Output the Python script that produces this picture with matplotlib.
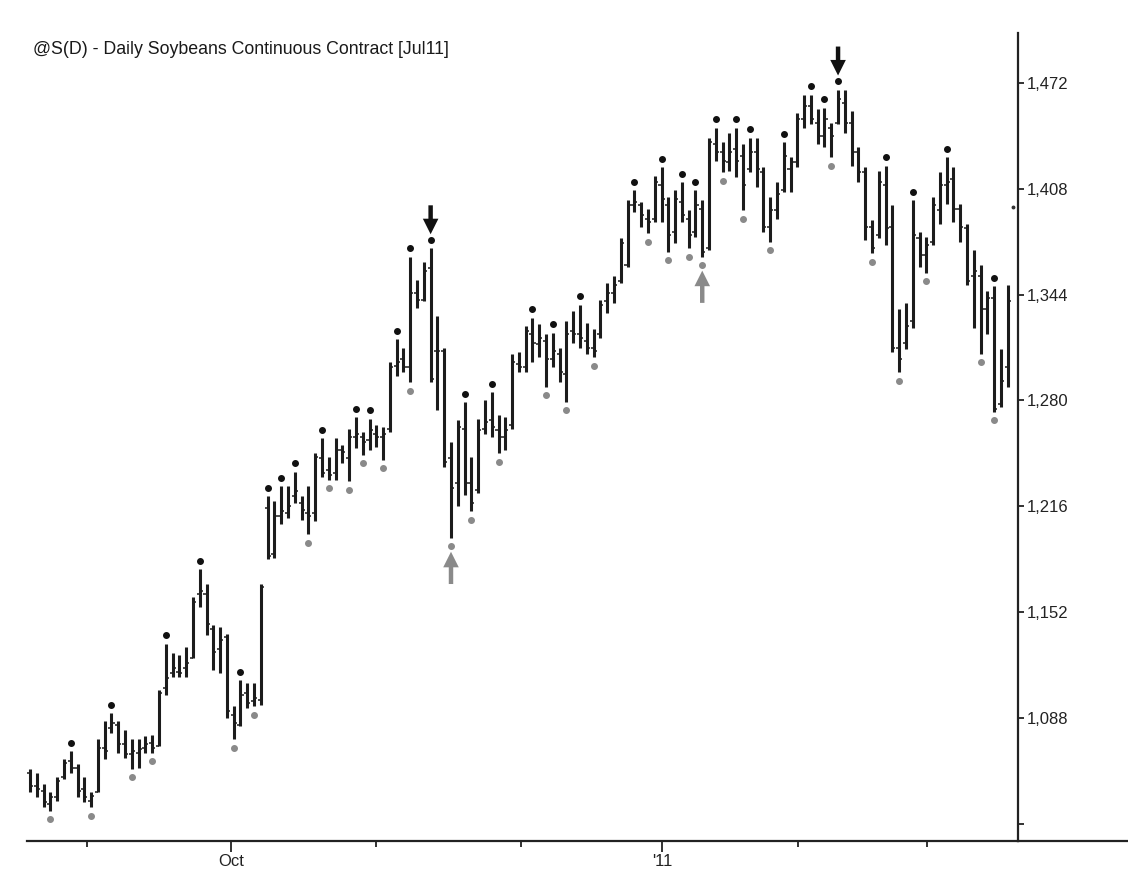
import matplotlib
matplotlib.use("Agg")
import matplotlib.pyplot as plt
from matplotlib.lines import Line2D
from matplotlib.ticker import FixedLocator, NullFormatter

plt.rcParams['font.family'] = ['Liberation Sans', 'DejaVu Sans']

title = "@S(D) - Daily Soybeans Continuous Contract [Jul11]"

highs = [1057, 1055, 1048, 1043, 1052, 1063, 1068, 1060, 1052, 1043,
         1075, 1086, 1091, 1086, 1081, 1075, 1075, 1077, 1078, 1105,
         1133, 1127, 1126, 1131, 1161, 1178, 1169, 1144, 1143, 1139,
         1095, 1111, 1109, 1109, 1169, 1222, 1219, 1228, 1228, 1237,
         1222, 1228, 1248, 1257, 1246, 1257, 1253, 1263, 1270, 1261,
         1269, 1265, 1264, 1303, 1317, 1312, 1367, 1353, 1364, 1372,
         1331, 1312, 1255, 1268, 1279, 1246, 1269, 1280, 1285, 1271,
         1270, 1308, 1309, 1325, 1330, 1326, 1320, 1321, 1312, 1328,
         1334, 1338, 1327, 1323, 1341, 1351, 1355, 1378, 1401, 1407,
         1400, 1396, 1416, 1421, 1403, 1407, 1412, 1395, 1407, 1401,
         1439, 1445, 1436, 1442, 1445, 1435, 1439, 1439, 1421, 1403,
         1412, 1436, 1427, 1454, 1465, 1465, 1456, 1457, 1448, 1468,
         1468, 1455, 1433, 1421, 1389, 1419, 1422, 1398, 1335, 1339,
         1401, 1382, 1379, 1403, 1418, 1427, 1421, 1399, 1387, 1371,
         1362, 1346, 1349, 1311, 1350]

lows = [1043, 1040, 1034, 1032, 1038, 1051, 1055, 1040, 1037, 1034,
        1043, 1063, 1079, 1067, 1064, 1057, 1058, 1067, 1067, 1071,
        1102, 1113, 1113, 1113, 1124, 1155, 1138, 1117, 1115, 1088,
        1075, 1083, 1094, 1095, 1096, 1184, 1185, 1205, 1209, 1218,
        1208, 1199, 1207, 1234, 1232, 1232, 1242, 1231, 1251, 1247,
        1250, 1252, 1244, 1261, 1295, 1297, 1291, 1336, 1340, 1291,
        1274, 1240, 1197, 1216, 1223, 1213, 1224, 1260, 1258, 1248,
        1250, 1263, 1297, 1297, 1303, 1306, 1288, 1300, 1291, 1279,
        1315, 1312, 1308, 1306, 1318, 1333, 1339, 1351, 1361, 1394,
        1385, 1381, 1388, 1388, 1370, 1375, 1388, 1372, 1379, 1367,
        1371, 1425, 1418, 1419, 1415, 1395, 1418, 1409, 1382, 1376,
        1390, 1406, 1406, 1421, 1445, 1447, 1435, 1433, 1427, 1447,
        1442, 1422, 1412, 1377, 1369, 1378, 1374, 1309, 1297, 1311,
        1324, 1361, 1357, 1374, 1387, 1399, 1388, 1376, 1350, 1324,
        1308, 1320, 1273, 1276, 1288]

opens = [1055, 1047, 1044, 1036, 1040, 1052, 1062, 1058, 1045, 1038,
         1043, 1070, 1082, 1084, 1072, 1066, 1067, 1070, 1073, 1071,
         1106, 1115, 1116, 1118, 1124, 1163, 1163, 1142, 1130, 1137,
         1090, 1084, 1103, 1098, 1099, 1215, 1187, 1210, 1212, 1222,
         1218, 1212, 1212, 1245, 1238, 1236, 1250, 1245, 1258, 1258,
         1256, 1260, 1258, 1263, 1301, 1305, 1300, 1345, 1341, 1360,
         1310, 1310, 1245, 1230, 1263, 1230, 1226, 1263, 1268, 1262,
         1258, 1265, 1302, 1300, 1320, 1314, 1316, 1305, 1308, 1296,
         1322, 1320, 1316, 1312, 1320, 1340, 1345, 1352, 1362, 1398,
         1398, 1390, 1390, 1410, 1398, 1382, 1400, 1390, 1382, 1396,
         1372, 1435, 1430, 1424, 1432, 1428, 1420, 1430, 1418, 1385,
         1395, 1407, 1420, 1424, 1450, 1458, 1448, 1440, 1445, 1448,
         1460, 1448, 1430, 1418, 1385, 1380, 1410, 1385, 1312, 1315,
         1328, 1378, 1368, 1376, 1395, 1410, 1414, 1396, 1384, 1355,
         1355, 1335, 1342, 1278, 1300]

closes = [1047, 1045, 1037, 1040, 1050, 1061, 1058, 1044, 1040, 1041,
          1070, 1068, 1085, 1072, 1066, 1068, 1069, 1072, 1070, 1103,
          1112, 1118, 1115, 1121, 1158, 1165, 1145, 1128, 1135, 1092,
          1085, 1102, 1097, 1100, 1167, 1186, 1210, 1213, 1216, 1225,
          1214, 1210, 1246, 1236, 1235, 1250, 1249, 1258, 1260, 1255,
          1262, 1258, 1260, 1300, 1303, 1300, 1345, 1341, 1358, 1293,
          1310, 1243, 1227, 1264, 1230, 1218, 1262, 1267, 1264, 1258,
          1262, 1303, 1300, 1322, 1315, 1318, 1305, 1310, 1297, 1320,
          1320, 1318, 1312, 1310, 1338, 1345, 1350, 1375, 1398, 1400,
          1392, 1388, 1412, 1402, 1380, 1402, 1392, 1380, 1398, 1370,
          1436, 1430, 1425, 1430, 1425, 1410, 1430, 1420, 1385, 1395,
          1405, 1428, 1424, 1450, 1458, 1450, 1440, 1450, 1440, 1462,
          1448, 1430, 1418, 1385, 1372, 1412, 1384, 1312, 1305, 1325,
          1380, 1368, 1374, 1398, 1410, 1412, 1396, 1385, 1352, 1358,
          1335, 1342, 1275, 1292, 1340]

# 1-based bar numbers of swing highs (black dots) and swing lows (grey dots)
swing_high_bars = [7, 13, 21, 26, 32, 36, 38, 40, 44, 49, 51, 55, 57, 60, 65, 69,
                   75, 78, 82, 90, 94, 97, 99, 102, 105, 107, 112, 116, 118, 120,
                   127, 131, 136, 143]
swing_low_bars = [4, 10, 16, 19, 31, 34, 42, 45, 48, 50, 53, 57, 63, 66, 70, 77,
                  80, 84, 92, 95, 98, 100, 103, 106, 110, 119, 125, 129, 133, 141, 143]
sell_arrow_bars = [60, 120]
buy_arrow_bars = [63, 100]

month_tick_pos = [8.4, 29.6, 51.0, 72.3, 93.1, 113.1, 132.1]
month_tick_labels = ["", "Oct", "", "", "'11", "", ""]
price_ticks = [1024, 1088, 1152, 1216, 1280, 1344, 1408, 1472]
price_labels = ["", "1,088", "1,152", "1,216", "1,280", "1,344", "1,408", "1,472"]
last_marker_value = [1397]

BAR = '#1c1c1c'
GREY = '#8a8a8a'

fig = plt.figure(figsize=(11.28, 8.9), dpi=100)
L, R = 27 / 1128, 1018 / 1128
B, T = 1 - 841 / 890, 1 - 33 / 890
ax = fig.add_axes([L, B, R - L, T - B])

n = len(highs)
xs = list(range(n))
ax.vlines(xs, lows, highs, color=BAR, lw=2.2, zorder=3)
ax.hlines(opens, [x - 0.45 for x in xs], xs, color=BAR, lw=1.1, zorder=3)
ax.hlines(closes, xs, [x + 0.45 for x in xs], color=BAR, lw=1.1, zorder=3)

hx = [b - 1 for b in swing_high_bars]
ax.plot(hx, [highs[i] + 5 for i in hx], 'o', color='#111111', ms=4.0, zorder=4)
lx = [b - 1 for b in swing_low_bars]
ax.plot(lx, [lows[i] - 5 for i in lx], 'o', color=GREY, ms=4.0, zorder=4)

for b in sell_arrow_bars:
    i = b - 1
    ax.annotate('', xy=(i, highs[i] + 8.5), xytext=(i, highs[i] + 26),
                arrowprops=dict(arrowstyle='simple,head_width=0.7,head_length=0.7,tail_width=0.2',
                                color='#111111', lw=0, mutation_scale=16, shrinkA=0, shrinkB=0))
for b in buy_arrow_bars:
    i = b - 1
    ax.annotate('', xy=(i, lows[i] - 8.5), xytext=(i, lows[i] - 28),
                arrowprops=dict(arrowstyle='simple,head_width=0.7,head_length=0.7,tail_width=0.2',
                                color=GREY, lw=0, mutation_scale=16, shrinkA=0, shrinkB=0))

ax.plot([n - 0.2], last_marker_value, 'o', color='#333333', ms=1.8, zorder=4, clip_on=False)

ax.set_xlim(-0.44, 145.5)
ax.set_ylim(1013.6, 1502.2)

for s in ['left', 'top']:
    ax.spines[s].set_visible(False)
for s in ['right', 'bottom']:
    ax.spines[s].set_color('#222222')
    ax.spines[s].set_linewidth(1.6)

ax.yaxis.tick_right()
ax.set_yticks(price_ticks)
ax.set_yticklabels(price_labels, fontsize=12)
ax.tick_params(axis='y', direction='out', length=4, width=1.3, colors='#222222', pad=2)

major = [p for p, l in zip(month_tick_pos, month_tick_labels) if l]
minor = [p for p, l in zip(month_tick_pos, month_tick_labels) if not l]
ax.xaxis.set_major_locator(FixedLocator(major))
ax.set_xticklabels([l for l in month_tick_labels if l], fontsize=12)
ax.xaxis.set_minor_locator(FixedLocator(minor))
ax.xaxis.set_minor_formatter(NullFormatter())
ax.tick_params(axis='x', which='major', direction='out', length=8, width=1.3, colors='#222222', pad=1)
ax.tick_params(axis='x', which='minor', direction='out', length=4, width=1.3, colors='#222222')

# extend bottom axis line past the price scale
fig.add_artist(Line2D([R, 1.0], [B, B], transform=fig.transFigure, color='#222222', lw=1.6))

ax.text(0.006, 0.979, title, transform=ax.transAxes, fontsize=12.8,
        ha='left', va='center', color='#1a1a1a')

fig.savefig('out.png', dpi=100, facecolor='white')
